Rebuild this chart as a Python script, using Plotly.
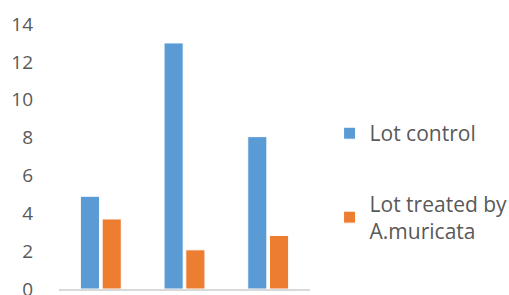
import plotly.graph_objects as go

categories = ["1", "2", "3"]
control = [4.9, 13.0, 8.05]
treated = [3.7, 2.07, 2.83]
series_names = ["Lot control", "Lot treated by<br>A.muricata"]
y_ticks = [0, 2, 4, 6, 8, 10, 12, 14]

fig = go.Figure()
fig.add_bar(x=categories, y=control, name=series_names[0],
            marker=dict(color="#5B9BD5", line=dict(color="white", width=1)),
            legendgroup="a")
fig.add_bar(x=categories, y=treated, name=series_names[1],
            marker=dict(color="#ED7D31", line=dict(color="white", width=1)),
            legendgroup="b")

fig.update_layout(
    width=509, height=295,
    margin=dict(l=59, r=199, t=24, b=6, autoexpand=False),
    paper_bgcolor="white", plot_bgcolor="white",
    barmode="group", bargap=0.48, bargroupgap=0.12,
    font=dict(family="Open Sans", color="#595959", size=18),
    showlegend=True,
    legend=dict(x=1.078, y=0.664, xanchor="left", yanchor="top",
                font=dict(size=21, color="#595959"),
                traceorder="grouped", tracegroupgap=40,
                itemwidth=30, bgcolor="rgba(0,0,0,0)"),
    xaxis=dict(showticklabels=False, showline=True, linecolor="#D9D9D9",
               linewidth=1.5, ticks="", showgrid=False, zeroline=False,
               automargin=False),
    yaxis=dict(range=[0, 14], tickvals=y_ticks, showgrid=False, zeroline=False,
               showline=False, ticks="", ticklabelstandoff=25,
               ticklabeloverflow="allow", automargin=False,
               tickfont=dict(size=19, color="#595959")),
)

fig.write_html("out.html", config={"displayModeBar": False},
               post_script="document.body.style.margin='0';document.body.style.overflow='hidden';")
